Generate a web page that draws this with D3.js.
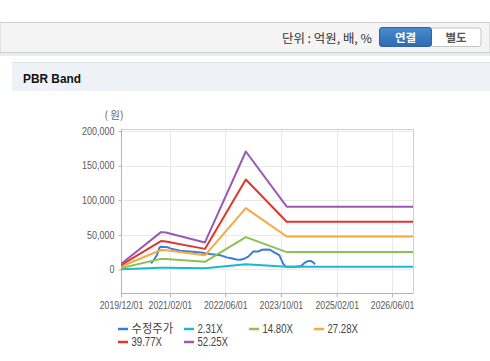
<!DOCTYPE html>
<html><head><meta charset="utf-8">
<script src="https://cdn.jsdelivr.net/npm/d3@7"></script>
<style>
html,body{margin:0;padding:0;background:#fff;width:490px;height:361px;overflow:hidden;font-family:"Liberation Sans","Noto Sans CJK KR",sans-serif;}
</style></head>
<body>
<svg id="c" width="490" height="361"></svg>
<script>
// ---- data ----
const xTickLabels = ["2019/12/01","2021/02/01","2022/06/01","2023/10/01","2025/02/01","2026/06/01"];
const yTickValues = [0, 50000, 100000, 150000, 200000];
const seriesNames = ["수정주가","2.31X","14.80X","27.28X","39.77X","52.25X"];
const seriesColors = ["#3b7dd8","#1cb8d2","#8dc050","#f7a83e","#e0362c","#9b59b6"];

const bandDates = ["2019-12-01","2020-11-15","2020-12-28","2021-12-05","2022-11-28","2023-11-21","2026-12-01"];
const band231  = [353, 2386, 2356, 1728, 7538, 4010, 4010];
const band1480 = [2264, 15288, 15096, 11070, 46800, 25100, 25100];
const band2728 = [4174, 28180, 27826, 20405, 88600, 47600, 47600];
const band3977 = [6085, 41082, 40565, 29748, 130000, 69040, 69040];
const band5225 = [7994, 53974, 53295, 39083, 170500, 90706, 90706];

const priceDates = ["2020-08-20","2020-09-06","2020-10-11","2020-11-02","2020-11-15","2021-01-16","2021-02-02","2021-05-01","2021-08-22","2021-11-18","2022-01-18","2022-04-16","2022-06-14","2022-07-12","2022-09-09","2022-10-08","2022-11-06","2022-12-20","2023-02-01","2023-03-17","2023-04-19","2023-05-30","2023-06-28","2023-07-27","2023-09-17","2023-10-22","2023-11-15","2024-02-02","2024-03-17","2024-04-03","2024-04-29","2024-05-25","2024-06-21","2024-07-13","2024-07-26"];
const priceValues = [9000,12000,21000,31500,33000,32000,30500,27000,25500,24000,22500,20700,17500,16500,14500,14000,15000,18500,26000,26000,28500,29000,28500,25500,20700,8000,3800,3800,4500,6000,10000,12200,12200,10000,7500];

// ---- layout ----
const svg = d3.select("#c");
const parse = d3.timeParse("%Y-%m-%d");
const parseTick = d3.timeParse("%Y/%m/%d");

// top bar
svg.append("rect").attr("x",0).attr("y",22.5).attr("width",490).attr("height",30).attr("fill","#f4f4f4").attr("stroke","#cfcfcf");
svg.append("rect").attr("x",0).attr("y",53).attr("width",490).attr("height",3).attr("fill","#ececec");
svg.append("text").attr("x",372).attr("y",42.5).attr("text-anchor","end")
  .attr("font-family","'Noto Sans CJK KR',sans-serif").attr("font-size",12).attr("fill","#333")
  .attr("textLength",90).attr("lengthAdjust","spacingAndGlyphs").text("단위 : 억원, 배, %");
const grad = svg.append("defs").append("linearGradient").attr("id","bg1").attr("x1",0).attr("y1",0).attr("x2",0).attr("y2",1);
grad.append("stop").attr("offset","0").attr("stop-color","#4a8ad2");
grad.append("stop").attr("offset","1").attr("stop-color","#2e6aae");
svg.append("rect").attr("x",431).attr("y",28).attr("width",50).attr("height",18.5).attr("rx",2.5).attr("fill","#fff").attr("stroke","#c4c4c4");
svg.append("rect").attr("x",379.5).attr("y",27.5).attr("width",52).attr("height",19).attr("rx",2.5).attr("fill","url(#bg1)").attr("stroke","#2e64a4");
svg.append("text").attr("x",405.5).attr("y",41.5).attr("text-anchor","middle").attr("font-family","'Noto Sans CJK KR',sans-serif")
  .attr("font-size",11.5).attr("font-weight","bold").attr("fill","#fff").text("연결");
svg.append("text").attr("x",456).attr("y",41.5).attr("text-anchor","middle").attr("font-family","'Noto Sans CJK KR',sans-serif")
  .attr("font-size",11.5).attr("font-weight","bold").attr("fill","#555").text("별도");

// section header
svg.append("rect").attr("x",12).attr("y",62).attr("width",478).attr("height",29).attr("fill","#eef2f7");
svg.append("line").attr("x1",12).attr("x2",490).attr("y1",62.5).attr("y2",62.5).attr("stroke","#dde2ea");
svg.append("text").attr("x",23).attr("y",83).attr("font-size",13.5).attr("font-weight","bold").attr("fill","#111")
  .attr("textLength",58).attr("lengthAdjust","spacingAndGlyphs").text("PBR Band");

// chart
const L=121, R=413, T=129, B=293;
const x = d3.scaleTime().domain([parse("2019-12-01"), parse("2026-12-01")]).range([L,R]);
const y = d3.scaleLinear().domain([-34000, 203000]).range([B,T]);

const g = svg.append("g");
g.selectAll(".hg").data(yTickValues).enter().append("line")
  .attr("x1",L).attr("x2",R).attr("y1",d=>Math.round(y(d))+0.5).attr("y2",d=>Math.round(y(d))+0.5).attr("stroke","#e9e9e9");
const xTicks = xTickLabels.map(parseTick);
g.selectAll(".vg").data(xTicks).enter().append("line")
  .attr("x1",d=>Math.round(x(d))+0.5).attr("x2",d=>Math.round(x(d))+0.5).attr("y1",T).attr("y2",B).attr("stroke","#e9e9e9");
g.append("rect").attr("x",L+0.5).attr("y",T+0.5).attr("width",R-L).attr("height",B-T).attr("fill","none").attr("stroke","#d0d0d0");

const yAxis = d3.axisLeft(y).tickValues(yTickValues).tickSize(3).tickPadding(4).tickFormat(d3.format(","));
const ya = svg.append("g").attr("transform",`translate(${L+0.5},0)`).call(yAxis);
ya.select(".domain").attr("stroke","#b5b5b5").attr("d",`M0,${T}V${B}`);
ya.selectAll(".tick line").attr("stroke","#b5b5b5");
ya.selectAll("text").attr("font-family","'Liberation Sans',sans-serif").attr("font-size",10).attr("fill","#5a5a5a")
  .each(function(){ const w=this.getComputedTextLength(); d3.select(this).attr("textLength",w*0.9).attr("lengthAdjust","spacingAndGlyphs"); });

const xAxis = d3.axisBottom(x).tickValues(xTicks).tickSize(4).tickPadding(4).tickFormat(d3.timeFormat("%Y/%m/%d"));
const xa = svg.append("g").attr("transform",`translate(0,${B+0.5})`).call(xAxis);
xa.select(".domain").attr("stroke","#b5b5b5").attr("d",`M${L},0H${R}`);
xa.selectAll(".tick line").attr("stroke","#b5b5b5");
xa.selectAll("text").attr("font-family","'Liberation Sans',sans-serif").attr("font-size",10).attr("fill","#5a5a5a")
  .each(function(){ const w=this.getComputedTextLength(); d3.select(this).attr("textLength",w*0.87).attr("lengthAdjust","spacingAndGlyphs"); });

svg.append("text").attr("x",114).attr("y",119).attr("text-anchor","middle").attr("font-family","'Noto Sans CJK KR',sans-serif")
  .attr("font-size",10.5).attr("fill","#666").text("( 원)");

const line = d3.line().x(d=>x(d[0])).y(d=>y(d[1]));
const bd = bandDates.map(parse);
const bands = [band231, band1480, band2728, band3977, band5225];
svg.append("clipPath").attr("id","clp").append("rect").attr("x",L).attr("y",T).attr("width",R-L).attr("height",B-T);
const lg = svg.append("g").attr("clip-path","url(#clp)");
const priceData = priceDates.map((d,i)=>[parse(d), priceValues[i]]);
lg.append("path").datum(priceData).attr("d",line).attr("fill","none").attr("stroke",seriesColors[0]).attr("stroke-width",2).attr("stroke-linejoin","round");
bands.forEach((b,i)=>{
  lg.append("path").datum(bd.map((d,j)=>[d,b[j]])).attr("d",line).attr("fill","none")
    .attr("stroke",seriesColors[i+1]).attr("stroke-width",2).attr("stroke-linejoin","round");
});

const legX = [118,184,249,314,118,184];
const legY = [329,329,329,329,342,342];
seriesNames.forEach((n,i)=>{
  const lgI = svg.append("g").attr("transform",`translate(${legX[i]},${legY[i]})`);
  lgI.append("line").attr("x1",0).attr("x2",10).attr("y1",0).attr("y2",0).attr("stroke",seriesColors[i]).attr("stroke-width",2.5);
  const t = lgI.append("text").attr("x",13.5).attr("y",4.3).attr("font-family","'Liberation Sans','Noto Sans CJK KR',sans-serif")
    .attr("font-size",12).attr("fill","#444").text(n);
  const w = t.node().getComputedTextLength();
  t.attr("textLength", w*(i===0?0.94:0.8)).attr("lengthAdjust","spacingAndGlyphs");
});
</script>
</body></html>
